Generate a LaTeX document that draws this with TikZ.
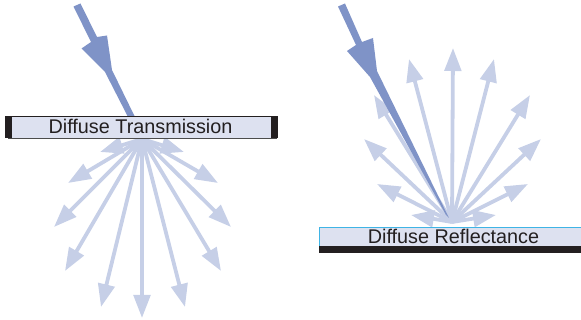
\documentclass[tikz,border=0pt]{standalone}
\usepackage{fontspec}
\setmainfont{Liberation Sans}
\usetikzlibrary{arrows.meta}
\definecolor{lightray}{HTML}{C6CFE7}
\definecolor{darkray}{HTML}{7F93C7}
\definecolor{panel}{HTML}{DDE1F0}
\definecolor{inkbar}{HTML}{231F20}
\definecolor{cyanedge}{HTML}{3FB4E5}
\tikzset{
  x=1pt,y=-1pt,
  lightarrow/.style={draw=lightray,line width=3.8pt,-{Triangle[length=23pt,width=16.5pt,fill=lightray]}},
  darkhead/.style={fill=darkray,draw=none},
  paneltext/.style={font=\fontsize{19.8}{22}\selectfont,text=inkbar,inner sep=0pt,anchor=base},
}
\begin{document}
\begin{tikzpicture}
\useasboundingbox (0,0) rectangle (581,320);
% left panel
\coordinate (Lapex) at (142,139);
\foreach \n/\p in {a/{100,152},b/{184,152},c/{68,183},d/{218,183},e/{54,227},f/{231,227},g/{65,271},h/{221,271},i/{101,307},j/{185,307},k/{142,318}}{
  \coordinate (L\n) at (\p);
  \draw[lightarrow] (Lapex) -- (L\n);
}
\fill[fill=panel] (8,117) rectangle (274,138);
\fill[inkbar] (5,116.5) rectangle (12,138.5);
\fill[inkbar] (271,116.5) rectangle (277.5,138.5);
\draw[inkbar,line width=0.8pt] (5,116.8) -- (277,116.8);
\draw[black!70,line width=1pt] (8,138.5) -- (277,138.5);
\node[paneltext] (ltext) at (140.5,134) {Diffuse Transmission};
\fill[darkhead] (73.5,6.5) -- (80.5,3.5) -- (97,37) -- (107,35.5) -- (112,70) -- (134.5,116) -- (127.5,116) -- (105,72) -- (81.5,48.5) -- (91,42) -- cycle;
% right panel
\coordinate (Rapex) at (452,222);
\foreach \n/\p in {a/{411,215},b/{496,215},c/{377,184},d/{528,184},e/{364,139},f/{541,139},g/{374,95},h/{530,95},i/{409,59},j/{494,59},k/{453,48}}{
  \coordinate (R\n) at (\p);
  \draw[lightarrow] (Rapex) -- (R\n);
}
\fill[darkhead] (338,6.5) -- (345,3.5) -- (362,42) -- (373,38) -- (377,71) -- (449,218) -- (446,215) -- (370,77) -- (347,51) -- (356,45) -- cycle;
\fill[fill=panel] (319.5,228) rectangle (581,248);
\draw[cyanedge,line width=0.6pt] (319.5,248) -- (319.5,227.8) -- (581,227.8);
\fill[inkbar] (319,246.5) rectangle (581,253);
\node[paneltext] (rtext) at (453.5,244) {Diffuse Reflectance};
\end{tikzpicture}
\end{document}
